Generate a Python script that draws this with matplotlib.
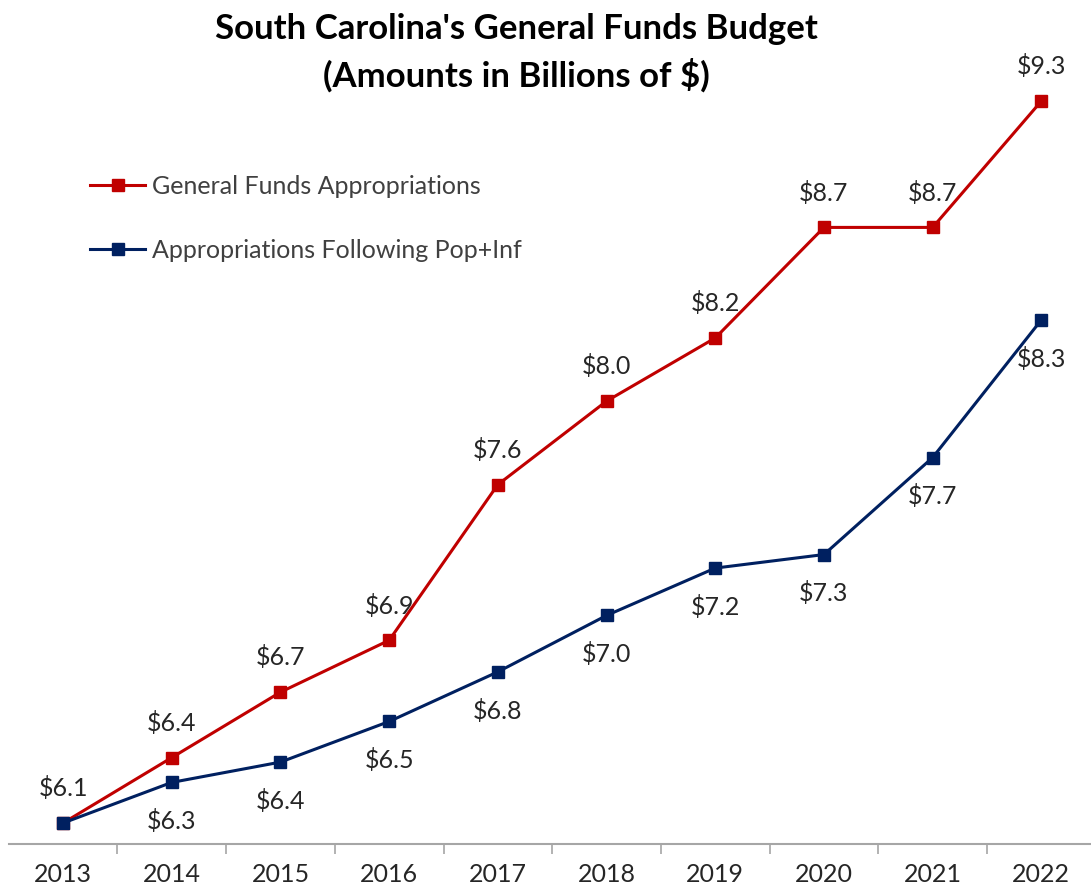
import matplotlib
matplotlib.use("Agg")
import matplotlib.pyplot as plt
import numpy as np

years = ["2013", "2014", "2015", "2016", "2017", "2018", "2019", "2020", "2021", "2022"]
general_funds = [6.10, 6.39, 6.68, 6.91, 7.60, 7.97, 8.25, 8.74, 8.74, 9.30]
pop_inf = [6.10, 6.28, 6.37, 6.55, 6.77, 7.02, 7.23, 7.29, 7.72, 8.33]

red = "#C00000"
navy = "#002060"
plt.rcParams["font.family"] = ["Lato", "DejaVu Sans"]

fig = plt.figure(figsize=(10.91, 8.93), dpi=100)
ax = fig.add_axes([8.7 / 1091, 49 / 893, 1087 / 1091, 844 / 893])

x = np.arange(len(years))
ax.plot(x, general_funds, color=red, lw=2.2, marker="s", ms=8.5, label="General Funds Appropriations", zorder=3)
ax.plot(x, pop_inf, color=navy, lw=2.2, marker="s", ms=8.5, label="Appropriations Following Pop+Inf", zorder=4)

for i in range(len(years)):
    ax.annotate("$%.1f" % general_funds[i], (x[i], general_funds[i]), xytext=(0, 25),
                textcoords="offset points", ha="center", va="center", fontsize=18, color="#262626")
    if i > 0:
        ax.annotate("$%.1f" % pop_inf[i], (x[i], pop_inf[i]), xytext=(0, -28),
                    textcoords="offset points", ha="center", va="center", fontsize=18, color="#262626")

ax.set_xlim(-0.5, 9.5)
ax.set_ylim(6.007, 9.748)
ax.set_yticks([])
ax.set_xticks(x)
ax.set_xticklabels(years, fontsize=18, color="#262626")
ax.set_xticks(x[:-1] + 0.5, minor=True)
ax.tick_params(axis="x", which="major", length=0, pad=14)
ax.tick_params(axis="x", which="minor", length=7, color="#A6A6A6", width=1.2)
for s in ["top", "left", "right"]:
    ax.spines[s].set_visible(False)
ax.spines["bottom"].set_color("#A6A6A6")
ax.spines["bottom"].set_linewidth(1.5)

fig.text(516 / 1091, 1 - 53 / 893, "South Carolina's General Funds Budget\n(Amounts in Billions of $)",
         ha="center", va="center", fontsize=25, fontweight="bold", color="black", linespacing=1.45)

ax.legend(loc="upper left", bbox_to_anchor=(0.066, 0.805), frameon=False, fontsize=18,
          handlelength=2.2, handletextpad=0.25, labelspacing=1.65, labelcolor="#404040", borderaxespad=0)

fig.savefig("out.png", dpi=100)
